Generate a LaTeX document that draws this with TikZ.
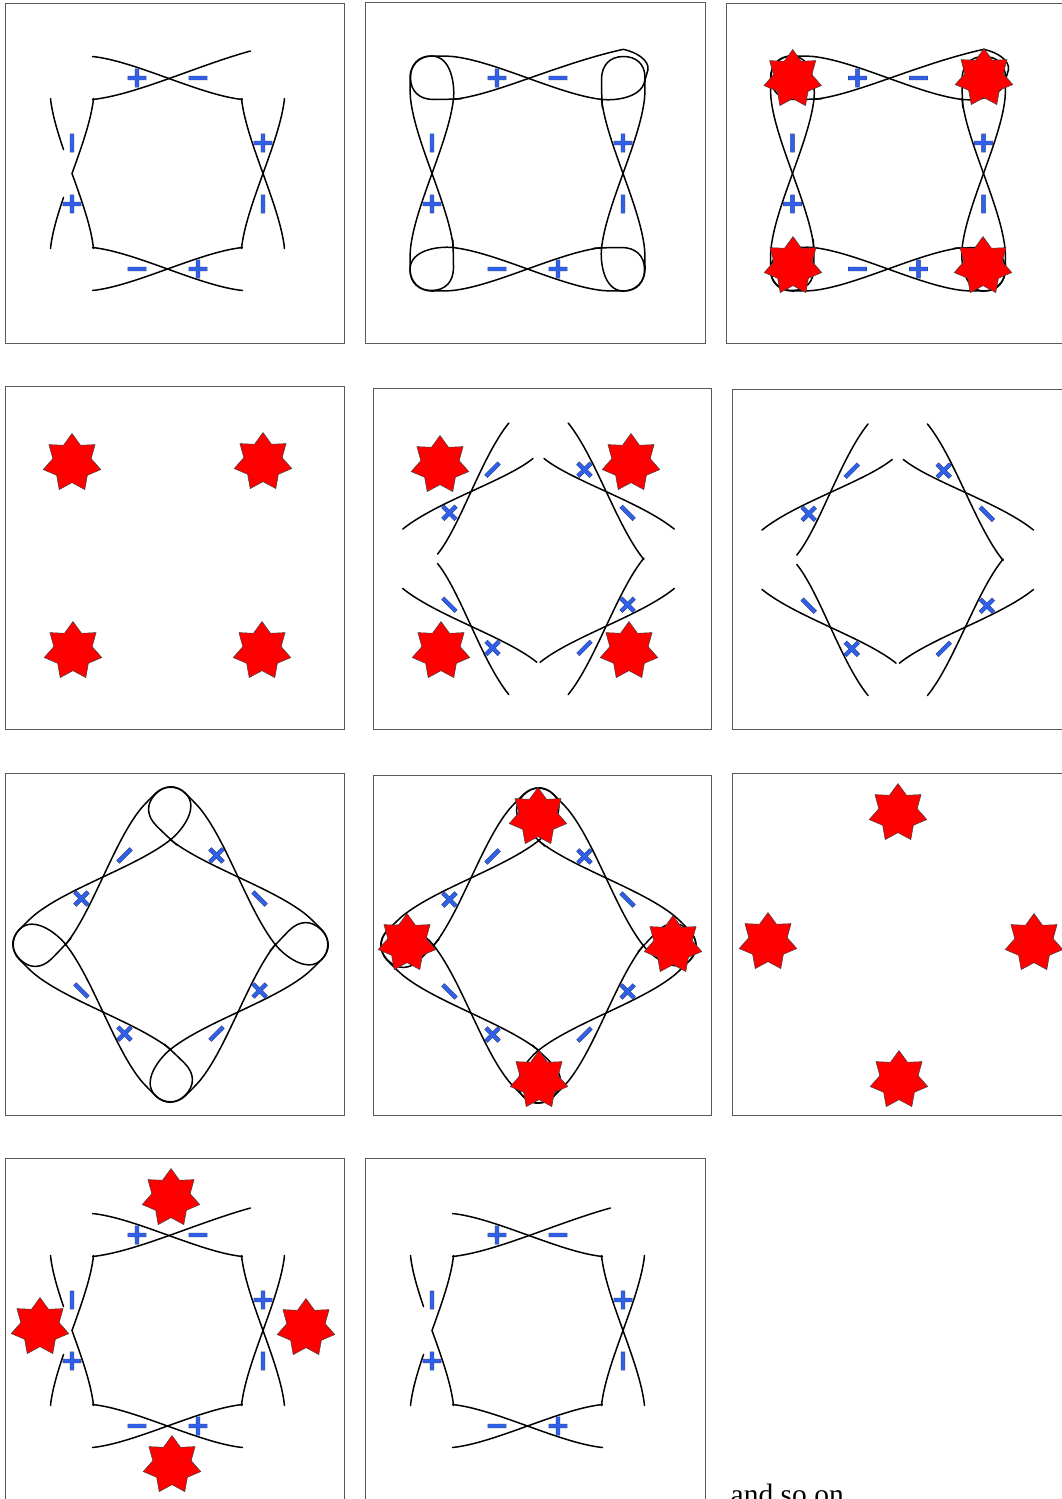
\documentclass[tikz,border=0pt]{standalone}
\usepackage{fontspec}
\setmainfont{Liberation Serif}
\newfontfamily\signfont{DejaVu Sans Bold}[FakeBold=1.5]
\newfontfamily\signedgefont{DejaVu Sans Bold}[FakeBold=4]
\usetikzlibrary{shapes.geometric}

\definecolor{signblue}{RGB}{48,96,232}
\definecolor{signedge}{RGB}{40,50,95}
\definecolor{framegray}{RGB}{90,90,90}

\tikzset{
  strand/.style={draw=black, line width=1.5pt, line cap=round, line join=round},
  panel/.style={draw=framegray, line width=0.8pt},
  twistsign/.style={text=signblue, font=\fontsize{28}{28}\selectfont,
    inner sep=0pt, transform shape},
  redstar/.style={star, star points=7, star point ratio=1.5, minimum size=59pt,
    inner sep=0pt, fill=red, draw=black!75, line width=0.5pt},
}

% blue signs with a dark rim
\newcommand\plussign{\rlap{\color{signedge}\signedgefont +}{\signfont +}}
\newcommand\minussign{\vphantom{\signfont +}\rlap{\color{signedge}\signedgefont −}{\signfont −}}

% One twisted side of the band, drawn along the top and turned into place.
% #1 angle, #2 name prefix, #3/#4 extra options for the two strands
\newcommand\twistside[4]{%
  \begin{scope}[rotate=#1]
    \draw[strand,#3] (-75,-117) .. controls (-32,-112.5) and (32,-78.5) .. (75,-74);
    \draw[strand,#4] (-75,-74) .. controls (-32,-78.5) and (32,-112.5) .. (75,-117);
    \node[twistsign] (#2p) at (-30.5,-95.5) {\plussign};
    \node[twistsign] (#2m) at (30.5,-95.5) {\minussign};
  \end{scope}}

% First strand of a closed side: runs on into the kink loop at the end corner
\newcommand\kinkstrand{%
  \draw[strand] (-96,-117.5) .. controls (-87,-117.5) and (-79,-117.4) .. (-75,-117)
    .. controls (-32,-112.5) and (32,-78.5) .. (75,-74)
    .. controls (88,-72.6) and (117.5,-76) .. (117.5,-96)
    .. controls (117.5,-110) and (108,-117) .. (96,-117)
    .. controls (82,-117) and (74,-108) .. (74,-94)
    .. controls (74,-84) and (74.3,-76) .. (74.8,-66);}

% Closed side: kink loop plus the outer arc round the end corner
\newcommand\loopside[2]{%
  \begin{scope}[rotate=#1]
    \kinkstrand
    \draw[strand] (-75,-74) .. controls (-32,-78.5) and (32,-112.5) .. (75,-117)
      .. controls (79,-117.4) and (87,-117.5) .. (96,-117.5)
      .. controls (108,-117.5) and (117.5,-108) .. (117.5,-96);
    \node[twistsign] (#2p) at (-30.5,-95.5) {\plussign};
    \node[twistsign] (#2m) at (30.5,-95.5) {\minussign};
  \end{scope}}

% Closed side whose outer strand overshoots the corner in a hook
\newcommand\hookside[1]{%
  \kinkstrand
  \draw[strand] (-75,-74) .. controls (-32,-78.5) and (28,-109) .. (95.8,-124.2)
    .. controls (110,-121) and (121.5,-113) .. (120.5,-104)
    .. controls (120,-100) and (118,-98) .. (117.5,-92);
  \node[twistsign] (#1p) at (-30.5,-95.5) {\plussign};
  \node[twistsign] (#1m) at (30.5,-95.5) {\minussign};}

% Closed band with corner loops
\newcommand\loopband[1]{%
  \hookside{#1t}
  \loopside{-90}{#1r}
  \loopside{-180}{#1b}
  \loopside{-270}{#1l}}

% Same band, turned by 45 degrees, every corner alike
\newcommand\diamondband[1]{%
  \loopside{-45}{#1a}
  \loopside{-135}{#1b}
  \loopside{-225}{#1c}
  \loopside{-315}{#1d}}

% Band with the corners cut away
\newcommand\openband[1]{%
  \draw[strand] (-75,-117) .. controls (-32,-112.5) and (32,-78.5) .. (75,-74);
  \draw[strand] (-75,-74) .. controls (-32,-78.5) and (30,-108) .. (83,-122.5);
  \node[twistsign] (#1tp) at (-30.5,-95.5) {\plussign};
  \node[twistsign] (#1tm) at (30.5,-95.5) {\minussign};
  \twistside{-90}{#1r}{}{}
  \twistside{-180}{#1b}{}{}
  % left side: inner halves meet in a point, outer strands broken
  \begin{scope}[rotate=90]
    \draw[strand, line join=miter] (-75,-74) .. controls (-53.5,-76.25) and (-26.75,-85.875) .. (0,-95.5)
      .. controls (26.75,-85.875) and (53.5,-76.25) .. (75,-74);
    \draw[strand] (-75,-117) .. controls (-59.95,-115.43) and (-42.33,-110.24) .. (-23.93,-103.94);
    \draw[strand] (75,-117) .. controls (59.95,-115.43) and (42.33,-110.24) .. (23.93,-103.94);
    \node[twistsign] (#1lp) at (-30.5,-95.5) {\plussign};
    \node[twistsign] (#1lm) at (30.5,-95.5) {\minussign};
  \end{scope}}

% Open band turned by 45 degrees
\newcommand\opendiamond[1]{%
  \twistside{-45}{#1a}{}{shorten <=8pt}
  \twistside{-135}{#1b}{shorten >=3pt}{}
  \twistside{-225}{#1c}{shorten >=7pt}{shorten <=3pt}
  \twistside{-315}{#1d}{shorten >=8pt}{shorten <=7pt}}

\begin{document}
\begin{tikzpicture}[x=1pt, y=-1pt]
\useasboundingbox (0,0) rectangle (1061,1499);
\fill[white] (0,0) rectangle (1061,1499);

% frames
\draw[panel] (5,3) rectangle (344,343);
\draw[panel] (365,2.5) rectangle (705,343);
\draw[panel] (726,3) rectangle (1075,343);
\draw[panel] (5,386) rectangle (344,729);
\draw[panel] (373,388) rectangle (711.5,729);
\draw[panel] (732,389) rectangle (1075,729);
\draw[panel] (5,773) rectangle (344,1115);
\draw[panel] (373,775) rectangle (711.5,1115);
\draw[panel] (732,773.5) rectangle (1075,1115);
\draw[panel] (5,1158) rectangle (344,1515);
\draw[panel] (365,1158) rectangle (705,1515);

% row 1
\begin{scope}[shift={(167.5,173.5)}] \openband{A} \end{scope}
\begin{scope}[shift={(527.5,173.5)}] \loopband{B} \end{scope}
\begin{scope}[shift={(888,173.5)}] \loopband{C} \end{scope}
\node[redstar] (c1) at (792.7,79) {};
\node[redstar] (c2) at (984,78) {};
\node[redstar] (c3) at (793,266) {};
\node[redstar] (c4) at (983,266) {};

% row 2
\node[redstar] (d1) at (72,463) {};
\node[redstar] (d2) at (263,462) {};
\node[redstar] (d3) at (73,651) {};
\node[redstar] (d4) at (262,651) {};
\begin{scope}[shift={(538.5,558.8)}] \opendiamond{E} \end{scope}
\node[redstar] (e1) at (440,465) {};
\node[redstar] (e2) at (631,463) {};
\node[redstar] (e3) at (441,651) {};
\node[redstar] (e4) at (629,651) {};
\begin{scope}[shift={(897.75,559.75)}] \opendiamond{F} \end{scope}

% row 3
\begin{scope}[shift={(170.5,944.5)}] \diamondband{G} \end{scope}
\begin{scope}[shift={(538.5,945.5)}] \diamondband{H} \end{scope}
\node[redstar] (h1) at (538,817) {};
\node[redstar] (h2) at (407,943) {};
\node[redstar] (h3) at (673,945) {};
\node[redstar] (h4) at (539,1080) {};
\node[redstar] (i1) at (898,813) {};
\node[redstar] (i2) at (768,942) {};
\node[redstar] (i3) at (1034,943) {};
\node[redstar] (i4) at (899,1080) {};

% row 4
\begin{scope}[shift={(167.5,1330.5)}] \openband{J} \end{scope}
\node[redstar] (j1) at (171,1198) {};
\node[redstar] (j2) at (40,1327) {};
\node[redstar] (j3) at (306,1328) {};
\node[redstar] (j4) at (172,1465) {};
\begin{scope}[shift={(527.5,1330.5)}] \openband{K} \end{scope}

\node[anchor=base west, inner sep=0pt, font=\fontsize{29.5}{32}\selectfont] (more) at (730.5,1504) {and so on};
\end{tikzpicture}
\end{document}
